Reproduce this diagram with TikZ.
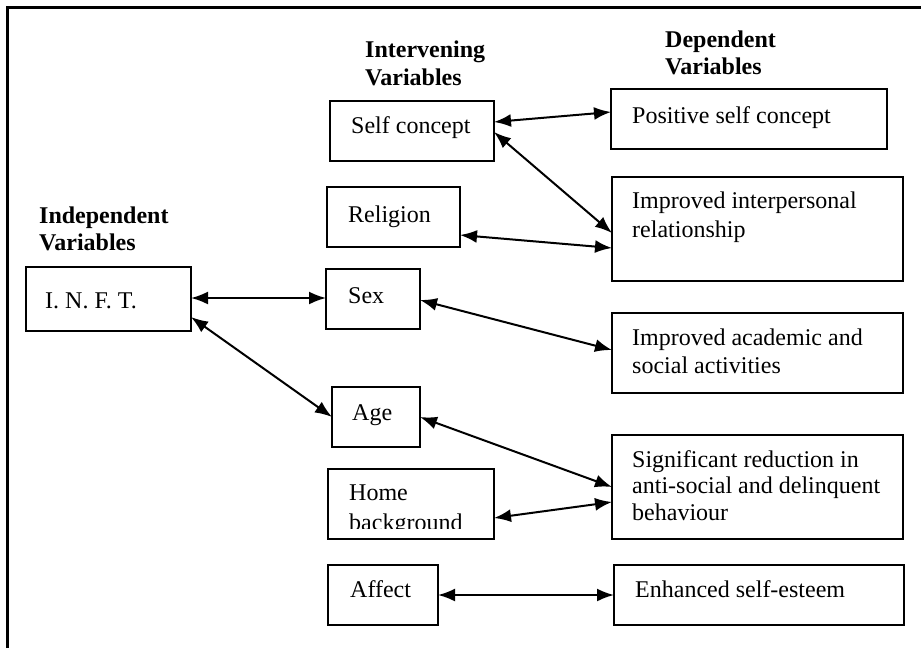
\documentclass[tikz,border=0pt]{standalone}
\usepackage{fontspec}
\setmainfont{Liberation Serif}
\usetikzlibrary{arrows.meta,calc}
\begin{document}
\begin{tikzpicture}[x=1pt,y=-1pt,
  box/.style={draw,line width=1.8pt,inner sep=0pt,outer sep=0pt,anchor=north west},
  txt/.style={anchor=base west,inner sep=0pt,font=\fontsize{24}{27}\selectfont},
  hdr/.style={anchor=base west,inner sep=0pt,font=\fontsize{24}{27}\selectfont\bfseries},
  link/.style={line width=2pt,{Latex[length=17pt,width=13pt]}-{Latex[length=17pt,width=13pt]}}]
\useasboundingbox (0,0) rectangle (921,648);
\fill[white] (0,0) rectangle (921,648);
% frame
\draw[line width=2.5pt] (7.5,648) -- (7.5,7.5) -- (921,7.5);
% headers
\node[hdr] (h1a) at (365,57) {Intervening};
\node[hdr] (h1b) at (365,85) {Variables};
\node[hdr] (h2a) at (665,47) {Dependent};
\node[hdr] (h2b) at (665,74) {Variables};
\node[hdr] (h3a) at (39,223) {Independent};
\node[hdr] (h3b) at (39,250) {Variables};
% boxes
\node[box,minimum width=164pt,minimum height=60pt] (selfc) at (330,101) {};
\node[box,minimum width=276pt,minimum height=60pt] (pos) at (611,89) {};
\node[box,minimum width=133pt,minimum height=60pt] (rel) at (327,187) {};
\node[box,minimum width=291pt,minimum height=104pt] (inter) at (612,177) {};
\node[box,minimum width=165pt,minimum height=64pt] (inft) at (26,267) {};
\node[box,minimum width=94pt,minimum height=60pt] (sex) at (326,269) {};
\node[box,minimum width=291pt,minimum height=80pt] (acad) at (612,313) {};
\node[box,minimum width=88pt,minimum height=60pt] (age) at (332,387) {};
\node[box,minimum width=166pt,minimum height=70pt] (home) at (328,469) {};
\node[box,minimum width=291pt,minimum height=104pt] (sig) at (612,435) {};
\node[box,minimum width=110pt,minimum height=60pt] (affect) at (328,565) {};
\node[box,minimum width=290pt,minimum height=60pt] (enh) at (614,565) {};
% texts
\node[txt] (t1) at (351,133) {Self concept};
\node[txt] (t2) at (632,123) {Positive self concept};
\node[txt] (t3) at (348,222) {Religion};
\node[txt] (t4) at (632,208) {Improved interpersonal};
\node[txt] (t5) at (632,237) {relationship};
\node[txt] (t6) at (45,308) {I. N. F. T.};
\node[txt] (t7) at (348,303) {Sex};
\node[txt] (t8) at (632,345) {Improved academic and};
\node[txt] (t9) at (632,373) {social activities};
\node[txt] (t10) at (352,420) {Age};
\node[txt] (t11) at (349,500) {Home};
\begin{scope}
\clip (330,470) rectangle (492,528);
\node[txt] (t12) at (349,530) {background};
\end{scope}
\node[txt] (t13) at (632,467) {Significant reduction in};
\node[txt] (t14) at (632,493) {anti-social and delinquent};
\node[txt] (t15) at (632,520) {behaviour};
\node[txt] (t16) at (350,597) {Affect};
\node[txt] (t17) at (635,597) {Enhanced self-esteem};
% connectors
\draw[link] ($(selfc.north east)+(0,21)$) -- ($(pos.north west)+(0,23)$);
\draw[link] ($(selfc.north east)+(0,31)$) -- ($(inter.north west)+(0,56)$);
\draw[link] ($(rel.north east)+(0,48)$) -- ($(inter.north west)+(0,71)$);
\draw[link] ($(inft.north east)+(0,31)$) -- ($(sex.north west)+(0,29)$);
\draw[link] ($(sex.north east)+(0,31)$) -- ($(acad.north west)+(0,37)$);
\draw[link] ($(inft.north east)+(0,50)$) -- ($(age.north west)+(0,30)$);
\draw[link] ($(age.north east)+(0,30)$) -- ($(sig.north west)+(0,52)$);
\draw[link] ($(home.north east)+(0,49)$) -- ($(sig.north west)+(0,67)$);
\draw[link] ($(affect.north east)+(0,30)$) -- ($(enh.north west)+(0,30)$);
\end{tikzpicture}
\end{document}
